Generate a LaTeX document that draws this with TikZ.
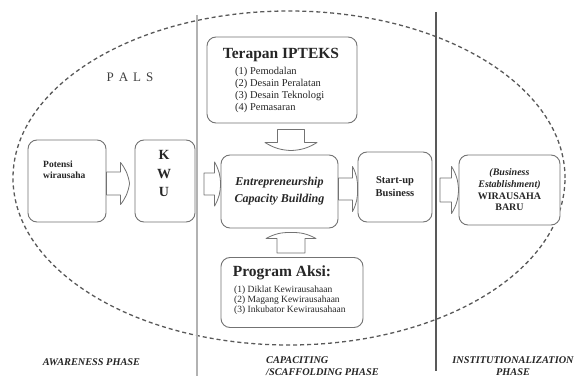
\documentclass[tikz,border=0pt]{standalone}
\usepackage{fontspec}
\setmainfont{Liberation Serif}
\usetikzlibrary{calc}
% horizontal block arrow: #1 tail, #2 target anchor, #3 y, #4 shaft half, #5 head half, #6 head length, #7 gap
\newcommand{\harrow}[7]{%
  \path (#2 |- 0,#3) coordinate (tq);
  \coordinate (tip) at ([xshift=-#7pt]tq);
  \coordinate (hb) at ([xshift={-#7pt-#6pt}]tq);
  \coordinate (tl) at (#1 |- 0,#3);
  \draw[barrow] ([yshift=#4pt]tl) -- ([yshift=#4pt]hb) -- ([yshift=#5pt]hb)
     to[bend left=14] (tip) to[bend left=14] ([yshift=-#5pt]hb) -- ([yshift=-#4pt]hb)
     -- ([yshift=-#4pt]tl) -- cycle;
}
% vertical block arrow: #1 tail, #2 target anchor, #3 x, #4 shaft half, #5 head half, #6 head length, #7 gap, #8 sign, #9 bend
\newcommand{\varr}[9]{%
  \path (#3,0 |- #2) coordinate (tq);
  \coordinate (tip) at ([yshift={#8*#7pt}]tq);
  \coordinate (hb) at ([yshift={#8*(#7pt+#6pt)}]tq);
  \coordinate (tl) at (#3,0 |- #1);
  \draw[barrow] ([xshift=-#4pt]tl) -- ([xshift=-#4pt]hb) -- ([xshift=-#5pt]hb)
     to[bend #9=14] (tip) to[bend #9=14] ([xshift=#5pt]hb) -- ([xshift=#4pt]hb)
     -- ([xshift=#4pt]tl) -- cycle;
}
\begin{document}
\begin{tikzpicture}[x=1pt,y=-1pt,
  box/.style={draw=black!55, line width=0.9pt, rounded corners=9pt, fill=white, inner sep=0pt},
  barrow/.style={draw=black!55, line width=0.8pt, fill=white, line join=round},
  txt/.style={text=black!85, inner sep=0pt},
  phase/.style={txt, font=\fontsize{10.3}{12}\selectfont\bfseries\itshape},
]
\useasboundingbox (0,0) rectangle (581,377);
\fill[white] (0,0) rectangle (581,377);
% dashed ellipse
\draw[black!65, line width=1.3pt, dash pattern=on 4pt off 3pt]
  (289,178) ellipse [x radius=276pt, y radius=167pt];
% phase separators
\draw[gray!60, line width=1.6pt] (197,15) -- (197,376);
\draw[gray!70!black, line width=1.1pt] (436,12) -- (436,371);

% boxes
\node[box, minimum width=78pt, minimum height=82pt] (pot) at (67,181) {};
\node[txt, font=\fontsize{9.5}{11}\selectfont\bfseries, align=left, anchor=west] (pott) at (43,170) {Potensi\\wirausaha};

\node[box, minimum width=60pt, minimum height=82pt] (kwu) at (165,181) {};
\node[txt, font=\fontsize{14}{18.5}\selectfont\bfseries, align=center] (kwut) at (164,173.5) {K\\W\\U};

\node[box, minimum width=117pt, minimum height=73pt, font=\fontsize{12}{17}\selectfont\bfseries\itshape, align=center, text=black!85] (ecb) at (279.5,191.5) {Entrepreneurship\\Capacity Building};

\node[box, minimum width=74pt, minimum height=70pt, font=\fontsize{10.5}{13}\selectfont\bfseries, align=center, text=black!85] (start) at (395,187) {Start-up\\Business};

\node[box, minimum width=101pt, minimum height=70pt, font=\fontsize{10}{11.7}\selectfont\bfseries, align=center, text=black!85] (be) at (509.5,190) {\textit{(Business}\\\textit{Establishment)}\\WIRAUSAHA\\BARU};

\node[box, minimum width=150pt, minimum height=86pt] (ter) at (282,80) {};
\node[txt, font=\fontsize{15.5}{18}\selectfont\bfseries] (tert) at (281,55) {Terapan IPTEKS};
\node[txt, font=\fontsize{10.5}{12.2}\selectfont, align=left, anchor=west] (teri) at (235,90) {(1) Pemodalan\\(2) Desain Peralatan\\(3) Desain Teknologi\\(4) Pemasaran};

\node[box, minimum width=142pt, minimum height=70pt] (prog) at (292,292.5) {};
\node[txt, font=\fontsize{15.5}{18}\selectfont\bfseries] (progt) at (282,273) {Program Aksi:};
\node[txt, font=\fontsize{9.5}{10.2}\selectfont, align=left, anchor=west] (progi) at (234,300) {(1) Diklat Kewirausahaan\\(2) Magang Kewirausahaan\\(3) Inkubator Kewirausahaan};

% labels
\node[txt, font=\fontsize{13}{15}\selectfont, text=black!75] (pals) at (130,77) {P\hspace{5pt}A\hspace{5pt}L\hspace{5pt}S};
\node[phase] (aw) at (91.5,362) {AWARENESS PHASE};
\node[phase, align=left, anchor=west] (cap) at (266,366) {CAPACITING\\/SCAFFOLDING PHASE};
\node[phase, align=center] (inst) at (513,366) {INSTITUTIONALIZATION\\PHASE};

% block arrows
\coordinate (lt) at (204,184);
\coordinate (rt) at (440,190);
\coordinate (dt) at ([yshift=-6pt]ter.south);
\coordinate (ut) at ([yshift=4pt]prog.north);
\harrow{pot.east}{kwu.west}{183.5}{11.5}{21}{9}{5}
\harrow{lt}{ecb.west}{184}{11}{22}{6}{0}
\harrow{ecb.east}{start.west}{189}{11}{22.5}{5}{0}
\harrow{rt}{be.west}{190}{12}{23.5}{7}{0}
\varr{dt}{ecb.north}{291}{13.5}{26}{8}{4}{1}{right}
\varr{ut}{ecb.south}{291}{14}{25}{6}{4}{-1}{left}
\end{tikzpicture}
\end{document}
